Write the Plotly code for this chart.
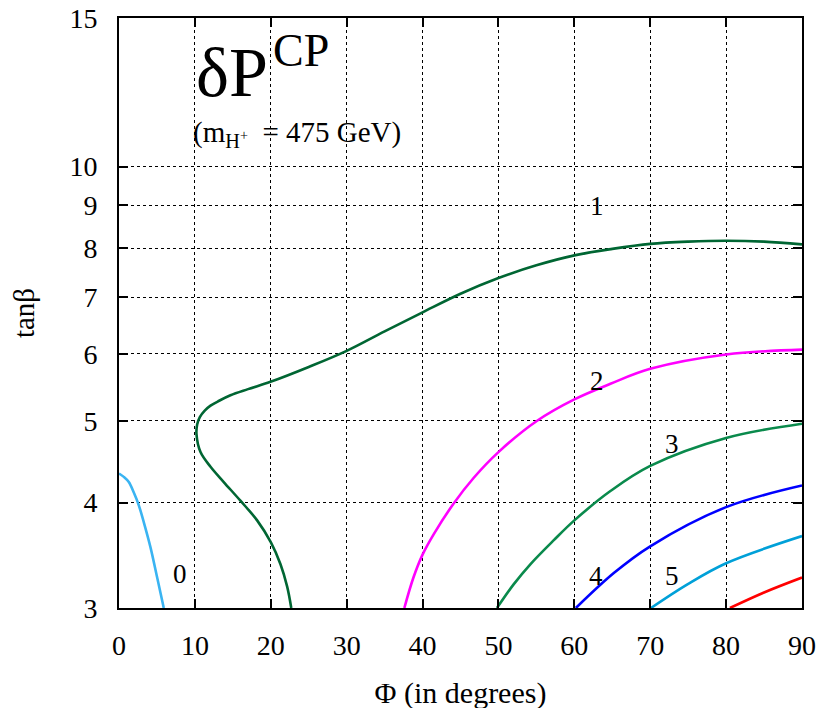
import math
import plotly.graph_objects as go

# ---- data ----
c0_x = [0.0, 0.63, 1.29, 1.95, 2.61, 3.27, 4.15, 5.03, 5.9]
c0_y = [4.33, 4.29, 4.23, 4.11, 3.97, 3.79, 3.54, 3.26, 3.0]

c1_x = [22.7, 22.16, 21.28, 20.0, 18.2, 16.0, 13.8, 12.06, 10.74, 10.21, 10.3, 10.65, 11.3, 12.06, 13.2,
        14.69, 17.0, 19.96, 25.0, 30.0, 35.0, 40.0, 45.0, 50.0, 55.0, 60.0, 65.0, 70.0, 75.0, 80.0, 85.0, 90.0]
c1_y = [3.0, 3.18, 3.38, 3.59, 3.81, 4.02, 4.23, 4.41, 4.59, 4.82, 4.95, 5.05, 5.14, 5.21, 5.28,
        5.36, 5.45, 5.56, 5.79, 6.05, 6.38, 6.72, 7.07, 7.38, 7.64, 7.85, 7.99, 8.10, 8.15, 8.17, 8.15, 8.09]

c2_x = [37.6, 38.8, 40.0, 41.48, 44.1, 46.75, 50.0, 55.1, 60.0, 64.76, 70.0, 80.0, 90.0]
c2_y = [3.0, 3.26, 3.47, 3.67, 3.99, 4.28, 4.59, 5.0, 5.30, 5.53, 5.76, 5.99, 6.07]

c3_x = [49.8, 52.0, 54.2, 57.3, 60.0, 64.8, 70.0, 80.0, 90.0]
c3_y = [3.0, 3.20, 3.38, 3.61, 3.81, 4.13, 4.42, 4.77, 4.96]

c4_x = [60.2, 65.2, 70.0, 80.0, 90.0]
c4_y = [3.0, 3.30, 3.55, 3.95, 4.19]

c5_x = [70.1, 74.9, 80.0, 90.0]
c5_y = [3.0, 3.20, 3.39, 3.65]

c6_x = [80.5, 85.0, 90.0]
c6_y = [3.0, 3.13, 3.26]

curve_colors = ["#3ab4f2", "#006633", "#ff00ff", "#0a8a4c", "#0000ff", "#00a0d8", "#ff0000"]

label_text = ["0", "1", "2", "3", "4", "5"]
label_x = [8.1, 63.0, 63.0, 72.9, 62.9, 72.9]
label_y = [3.29, 8.97, 5.57, 4.69, 3.27, 3.27]

x_ticks = [0, 10, 20, 30, 40, 50, 60, 70, 80, 90]
y_ticks = [3, 4, 5, 6, 7, 8, 9, 10, 15]

FONT = "Liberation Serif"

fig = go.Figure()
curves = [(c0_x, c0_y), (c1_x, c1_y), (c2_x, c2_y), (c3_x, c3_y),
          (c4_x, c4_y), (c5_x, c5_y), (c6_x, c6_y)]
for (xs, ys), col in zip(curves, curve_colors):
    fig.add_trace(go.Scatter(x=xs, y=ys, mode="lines",
                             line=dict(color=col, width=2.6, shape="spline", smoothing=1.0),
                             showlegend=False, hoverinfo="skip"))

# annotations on a log axis take log10 of the value
for t, lx, ly in zip(label_text, label_x, label_y):
    fig.add_annotation(x=lx, y=math.log10(ly), xref="x", yref="y", text=t, showarrow=False,
                       font=dict(family=FONT, size=27, color="black"))

axis_common = dict(showline=True, linecolor="black", linewidth=2, mirror="allticks",
                   ticks="inside", ticklen=9, tickwidth=1.5, tickcolor="black",
                   showgrid=True, gridcolor="black", gridwidth=1, griddash="dot",
                   zeroline=False, automargin=False, ticklabeloverflow="allow",
                   tickfont=dict(family=FONT, size=28, color="black"))

fig.update_xaxes(range=[0, 90], tickvals=x_ticks, ticktext=[str(v) for v in x_ticks],
                 title=dict(text="Φ (in degrees)", font=dict(family=FONT, size=30, color="black"),
                            standoff=22),
                 ticklabelstandoff=11, **axis_common)
fig.update_yaxes(type="log", range=[0.47712, 1.17609], tickvals=y_ticks,
                 ticktext=[str(v) for v in y_ticks],
                 title=dict(text="tanβ", font=dict(family=FONT, size=29, color="black"),
                            standoff=30),
                 ticklabelstandoff=14, **axis_common)

fig.add_annotation(xref="paper", yref="paper", x=0.1105, y=0.908, xanchor="left", yanchor="middle",
                   text="δP", showarrow=False, font=dict(family=FONT, size=70, color="black"))
fig.add_annotation(xref="paper", yref="paper", x=0.222, y=0.945, xanchor="left", yanchor="middle",
                   text="CP", showarrow=False, font=dict(family=FONT, size=46, color="black"))
fig.add_annotation(xref="paper", yref="paper", x=0.106, y=0.803, xanchor="left", yanchor="middle",
                   text="(m<sub>H<sup>+</sup></sub>\u00a0 = 475 GeV)", showarrow=False,
                   font=dict(family=FONT, size=29, color="black"))

fig.update_layout(width=827, height=708, margin=dict(l=111, r=33, t=10, b=108),
                  plot_bgcolor="white", paper_bgcolor="white")

fig.write_html("out.html")
